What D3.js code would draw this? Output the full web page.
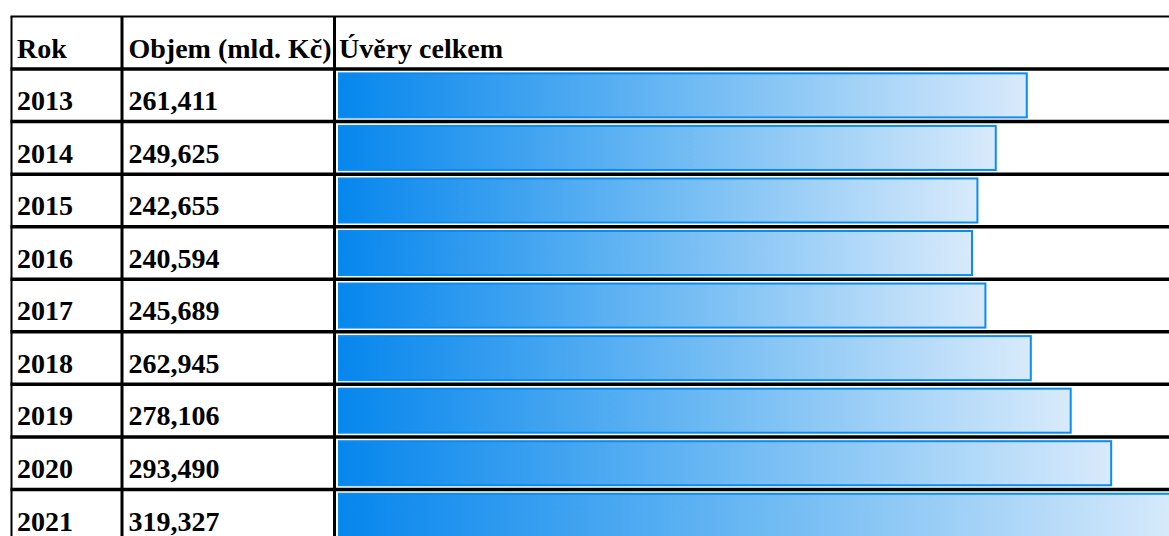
<!DOCTYPE html>
<html><head><meta charset="utf-8">
<script src="https://cdn.jsdelivr.net/npm/d3@7"></script>
<style>html,body{margin:0;padding:0;background:#fff;overflow:hidden}</style>
</head><body>
<svg id="chart" width="1169" height="536"></svg>
<script>
const years = ["2013","2014","2015","2016","2017","2018","2019","2020","2021"];
const volumes = [261.411, 249.625, 242.655, 240.594, 245.689, 262.945, 278.106, 293.490, 319.327];
const headers = ["Rok", "Objem (mld. Kč)", "Úvěry celkem"];

const W = 1169, H = 536;
const svg = d3.select("#chart");
const cz = d3.formatLocale({decimal: ",", thousands: " ", grouping: [3], currency: ["", " Kč"]});
const fmt = cz.format(".3f");

const rowTop = 16.5, rowH = 52.55;
const y = d3.scaleLinear().domain([0, 1]).range([rowTop, rowTop + rowH]);
const colX = [11.5, 122, 334.5];
const barX0 = 339;
const x = d3.scaleLinear().domain([0, 100]).range([barX0, barX0 + 263.1]);

const defs = svg.append("defs");
const grad = defs.append("linearGradient").attr("id", "barGrad")
  .attr("x1", "0%").attr("x2", "100%").attr("y1", "0%").attr("y2", "0%");
grad.append("stop").attr("offset", "0%").attr("stop-color", "#0686ed");
grad.append("stop").attr("offset", "50%").attr("stop-color", "#6cb9f3");
grad.append("stop").attr("offset", "100%").attr("stop-color", "#d8eafb");

// bars
svg.selectAll("rect.bar").data(volumes).join("rect")
  .attr("class", "bar")
  .attr("x", x(0))
  .attr("y", (d, i) => y(i + 1) + 4.3)
  .attr("width", d => x(d) - x(0))
  .attr("height", rowH - 8.5)
  .attr("fill", "url(#barGrad)")
  .attr("stroke", "#0a8cf0")
  .attr("stroke-width", 2);

const font = "'Liberation Serif','Times New Roman',serif";
// header text
svg.selectAll("text.hdr").data(headers).join("text")
  .attr("class", "hdr")
  .attr("x", (d, i) => [17, 128.5, 339][i])
  .attr("y", y(1) - 11)
  .attr("font-family", font).attr("font-weight", "bold").attr("font-size", 28)
  .attr("fill", "#000")
  .text(d => d);

// year text
svg.selectAll("text.yr").data(years).join("text")
  .attr("class", "yr")
  .attr("x", 17).attr("y", (d, i) => y(i + 2) - 11.5)
  .attr("font-family", font).attr("font-weight", "bold").attr("font-size", 28)
  .text(d => d);

svg.selectAll("text.val").data(volumes).join("text")
  .attr("class", "val")
  .attr("x", 128.5).attr("y", (d, i) => y(i + 2) - 11.5)
  .attr("font-family", font).attr("font-weight", "bold").attr("font-size", 28)
  .text(d => fmt(d));

// horizontal lines
const lineIdx = d3.range(years.length + 2);
svg.selectAll("line.h").data(lineIdx).join("line")
  .attr("class", "h")
  .attr("x1", colX[0] - 1).attr("x2", W)
  .attr("y1", d => y(d)).attr("y2", d => y(d))
  .attr("stroke", "#000").attr("stroke-width", d => d === 0 ? 2 : 3.5);

// vertical lines
svg.selectAll("line.v").data(colX).join("line")
  .attr("class", "v")
  .attr("x1", d => d).attr("x2", d => d)
  .attr("y1", y(0)).attr("y2", H)
  .attr("stroke", "#000").attr("stroke-width", (d, i) => i === 0 ? 2 : 3);
</script>
</body></html>
